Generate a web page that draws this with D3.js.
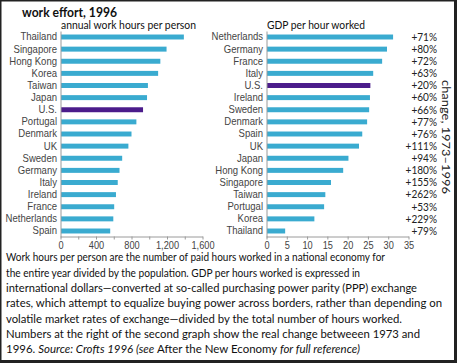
<!DOCTYPE html>
<html>
<head>
<meta charset="utf-8">
<script src="https://cdn.jsdelivr.net/npm/d3@7"></script>
<style>
  body { margin: 0; background: #fff; }
  svg { display: block; font-family: Lato, "Open Sans", sans-serif; }
  .domain { stroke: #9a9a9a; }
  .tick line { stroke: #9a9a9a; }
  .tick text { fill: #444; }
</style>
</head>
<body>
<svg id="chart" width="457" height="363"></svg>
<script>
// values
const workCountries = ['Thailand', 'Singapore', 'Hong Kong', 'Korea', 'Taiwan', 'Japan', 'U.S.', 'Portugal',
  'Denmark', 'UK', 'Sweden', 'Germany', 'Italy', 'Ireland', 'France', 'Netherlands', 'Spain'];
const workHours = [1390, 1195, 1125, 1100, 985, 975, 930, 855, 800, 765, 695, 665, 645, 625, 605, 595, 560];

const gdpCountries = ['Netherlands', 'Germany', 'France', 'Italy', 'U.S.', 'Ireland', 'Sweden', 'Denmark',
  'Spain', 'UK', 'Japan', 'Hong Kong', 'Singapore', 'Taiwan', 'Portugal', 'Korea', 'Thailand'];
const gdpPerHour = [31.2, 29.7, 28.5, 26.3, 25.6, 25.5, 25.3, 24.8, 23.6, 22.8, 20.2, 18.9, 15.9, 14.5, 14.2, 11.8, 4.6];
const gdpChange = ['+71%', '+80%', '+72%', '+63%', '+20%', '+60%', '+66%', '+77%', '+76%', '+111%',
  '+94%', '+180%', '+155%', '+262%', '+53%', '+229%', '+79%'];

const hoursTicks = [0, 400, 800, 1200, 1600];
const hoursMinorTicks = [200, 600, 1000, 1400];
const gdpTicks = [0, 5, 10, 15, 20, 25, 30, 35];

const captionLines = [
  'Work hours per person are the number of paid hours worked in a national economy for',
  'the entire year divided by the population. GDP per hours worked is expressed in',
  'international dollars\u2014converted at so-called purchasing power parity (PPP) exchange',
  'rates, which attempt to equalize buying power across borders, rather than depending on',
  'volatile market rates of exchange\u2014divided by the total number of hours worked.',
  'Numbers at the right of the second graph show the real change betweeen 1973 and'
];
const captionWidths = [379, 354, 411, 436, 396, 414];

const barColor = '#3aabd0';
const usColor = '#4b1c8b';

const $svg = d3.select('#chart');

// squeeze text to a width (the original font is narrower than Lato)
function fit(sel, w) {
  sel.attr('textLength', w).attr('lengthAdjust', 'spacingAndGlyphs');
}
function squeeze(sel, k) {
  sel.each(function() {
    const len = this.getComputedTextLength();
    d3.select(this).attr('textLength', len * k).attr('lengthAdjust', 'spacingAndGlyphs');
  });
}

// frame, heavier on right/bottom
$svg.append('rect')
  .attr('x', 0.75).attr('y', 0.75)
  .attr('width', 454).attr('height', 360)
  .attr('fill', 'none').attr('stroke', '#222').attr('stroke-width', 1.5);
$svg.append('rect').attr('x', 454).attr('y', 0).attr('width', 3).attr('height', 363).attr('fill', '#222');
$svg.append('rect').attr('x', 0).attr('y', 360).attr('width', 457).attr('height', 3).attr('fill', '#222');

$svg.append('text')
  .attr('x', 22).attr('y', 16.5)
  .attr('font-size', 12.5).attr('font-weight', 700).attr('fill', '#111')
  .text('work effort, 1996')
  .call(fit, 95);

function barChart(opts) {
  const y = d3.scaleBand()
    .domain(opts.cats)
    .range([31, 237])
    .paddingInner(0.59)
    .paddingOuter(0.29);
  const x = d3.scaleLinear().domain(opts.domain).range(opts.range);

  const g = $svg.append('g');

  g.append('text')
    .attr('x', opts.range[0] + 0.5).attr('y', 28.5)
    .attr('font-size', 11.2).attr('fill', '#111')
    .text(opts.title)
    .call(fit, opts.titleWidth);

  g.selectAll('.bar')
    .data(opts.cats)
    .enter()
    .append('rect')
    .attr('class', 'bar')
    .attr('x', x(0) + 0.5)
    .attr('y', d => y(d))
    .attr('width', (d, i) => x(opts.values[i]) - x(0) - 0.5)
    .attr('height', y.bandwidth())
    .attr('fill', d => d === 'U.S.' ? usColor : barColor);

  // minor ticks first, then labelled ticks
  if (opts.minor) {
    g.append('g')
      .attr('transform', `translate(0,236.5)`)
      .call(d3.axisBottom(x).tickValues(opts.minor).tickFormat('').tickSize(3).tickSizeOuter(0))
      .call(a => a.select('.domain').remove());
  }
  const xAxis = g.append('g')
    .attr('transform', `translate(0,236.5)`)
    .call(d3.axisBottom(x).tickValues(opts.ticks).tickFormat(opts.fmt).tickSize(3).tickSizeOuter(0).tickPadding(2));
  xAxis.selectAll('text').attr('font-size', 10).attr('font-family', null).call(squeeze, 0.92);

  const yAxis = g.append('g')
    .attr('transform', `translate(${opts.range[0]},0)`)
    .call(d3.axisLeft(y).tickSize(0).tickSizeOuter(0).tickPadding(3.5));
  yAxis.select('.domain').attr('stroke', '#555');
  yAxis.selectAll('text').attr('font-size', 10.6).attr('font-family', null).attr('fill', '#222')
    .call(squeeze, 0.9);

  return { x, y, g };
}

barChart({
  cats: workCountries, values: workHours,
  domain: [0, 1600], range: [60.5, 202.5],
  ticks: hoursTicks, minor: hoursMinorTicks, fmt: d3.format(','),
  title: 'annual work hours per person', titleWidth: 135
});

const right = barChart({
  cats: gdpCountries, values: gdpPerHour,
  domain: [0, 35], range: [266.5, 408.5],
  ticks: gdpTicks, fmt: d3.format('d'),
  title: 'GDP per hour worked', titleWidth: 98
});

right.g.selectAll('.pct')
  .data(gdpChange)
  .enter()
  .append('text')
  .attr('class', 'pct')
  .attr('x', 437)
  .attr('y', (d, i) => right.y(gdpCountries[i]) + right.y.bandwidth() / 2)
  .attr('dy', '0.36em')
  .attr('text-anchor', 'end')
  .attr('font-size', 10.6).attr('fill', '#222')
  .text(d => d)
  .call(squeeze, 0.95);

$svg.append('text')
  .attr('transform', 'translate(442,137) rotate(90)')
  .attr('text-anchor', 'middle')
  .attr('font-size', 10.5).attr('fill', '#222')
  .text('change, 1973\u20131996')
  .call(fit, 114);

// caption
const cap = $svg.append('g').attr('font-size', 11).attr('fill', '#111');
const capY = [261, 276.5, 292, 307.3, 322.5, 337.8, 353];
cap.selectAll('.line')
  .data(captionLines)
  .enter()
  .append('text')
  .attr('class', 'line')
  .attr('x', 6)
  .attr('y', (d, i) => capY[i])
  .text(d => d)
  .each(function(d, i) { d3.select(this).call(fit, captionWidths[i]); });

const last = cap.append('text').attr('x', 6).attr('y', capY[6]);
last.append('tspan').text('1996. ');
last.append('tspan').attr('font-style', 'italic').text('Source: Crofts 1996 (see ');
last.append('tspan').text('After the New Economy');
last.append('tspan').attr('font-style', 'italic').text(' for full reference)');
fit(last, 354);
</script>
</body>
</html>
